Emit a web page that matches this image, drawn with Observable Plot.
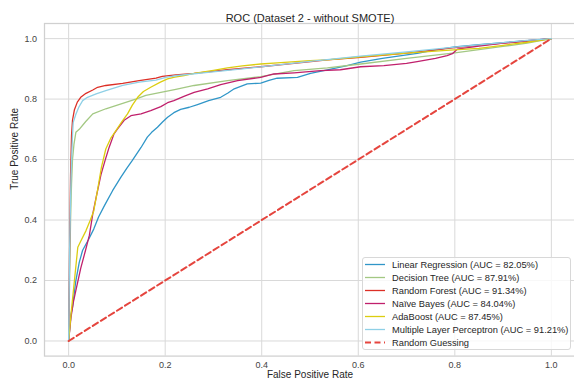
<!DOCTYPE html>
<html><head><meta charset="utf-8">
<script src="https://cdn.jsdelivr.net/npm/d3@7"></script>
<script src="https://cdn.jsdelivr.net/npm/@observablehq/plot@0.6"></script>
<style>
body{margin:0;background:#fff;}
#wrap{position:relative;width:574px;height:382px;font-family:"Liberation Sans",Arial,sans-serif;}
#legend{position:absolute;left:362px;top:257px;width:207px;height:91px;border:1px solid #d8d8d8;border-radius:3px;background:rgba(255,255,255,0.8);font-size:9.3px;color:#262626;}
.row{height:13px;display:flex;align-items:center;white-space:nowrap;}
.row svg{margin-left:2px;margin-right:7px;flex:none;}
</style></head>
<body><div id="wrap"></div>
<script>
const title = "ROC (Dataset 2 - without SMOTE)";
const xLabel = "False Positive Rate";
const yLabel = "True Positive Rate";
const ticks = [0, 0.2, 0.4, 0.6, 0.8, 1.0];

const models = ["Linear Regression", "Decision Tree", "Random Forest", "Naïve Bayes", "AdaBoost", "Multiple Layer Perceptron"];
const aucs = ["82.05%", "87.91%", "91.34%", "84.04%", "87.45%", "91.21%"];
const colors = ["#3096c8", "#a3c883", "#dc2f26", "#c0206c", "#dccd10", "#8fd0e6"];
const chanceLabel = "Random Guessing";
const chanceColor = "#e5453e";

const lrFpr = [0,0.005,0.008,0.015,0.022,0.029,0.041,0.052,0.062,0.075,0.091,0.108,0.12,0.132,0.15,0.163,0.172,0.184,0.195,0.205,0.218,0.232,0.25,0.267,0.29,0.315,0.33,0.343,0.37,0.398,0.415,0.432,0.474,0.501,0.536,0.577,0.605,0.65,0.722,0.76,0.8,0.85,0.894,0.95,1];
const lrTpr = [0,0.09,0.112,0.2,0.26,0.3,0.335,0.37,0.41,0.45,0.497,0.541,0.57,0.597,0.64,0.674,0.69,0.707,0.725,0.74,0.755,0.766,0.773,0.782,0.795,0.806,0.82,0.834,0.85,0.853,0.862,0.869,0.872,0.885,0.897,0.911,0.922,0.935,0.951,0.963,0.973,0.98,0.986,0.993,1];

const dtFpr = [0,0.002,0.004,0.006,0.008,0.011,0.015,0.022,0.035,0.05,0.077,0.112,0.139,0.16,0.191,0.222,0.26,0.329,0.398,0.467,0.536,0.605,0.7,0.8,0.9,0.95,1];
const dtTpr = [0,0.2,0.4,0.52,0.6,0.65,0.69,0.7,0.725,0.751,0.768,0.786,0.8,0.812,0.822,0.832,0.845,0.861,0.874,0.894,0.903,0.916,0.935,0.953,0.974,0.985,1];

const rfFpr = [0,0.002,0.004,0.006,0.008,0.012,0.018,0.025,0.036,0.05,0.06,0.077,0.112,0.146,0.181,0.194,0.222,0.26,0.329,0.398,0.467,0.536,0.605,0.7,0.8,0.9,0.95,1];
const rfTpr = [0,0.3,0.55,0.68,0.73,0.765,0.79,0.806,0.819,0.83,0.839,0.845,0.852,0.861,0.869,0.875,0.88,0.885,0.897,0.907,0.918,0.93,0.938,0.952,0.97,0.985,0.992,1];

const nbFpr = [0,0.005,0.01,0.015,0.025,0.035,0.043,0.05,0.057,0.067,0.076,0.084,0.094,0.101,0.115,0.129,0.15,0.17,0.191,0.205,0.218,0.24,0.26,0.288,0.315,0.35,0.398,0.425,0.467,0.522,0.563,0.605,0.653,0.7,0.722,0.76,0.784,0.795,0.805,0.85,0.9,0.95,1];
const nbTpr = [0,0.08,0.13,0.167,0.24,0.3,0.35,0.42,0.475,0.55,0.6,0.641,0.685,0.701,0.73,0.745,0.751,0.762,0.775,0.788,0.795,0.81,0.822,0.834,0.848,0.861,0.872,0.883,0.887,0.894,0.897,0.907,0.911,0.918,0.924,0.935,0.944,0.95,0.965,0.975,0.985,0.993,1];

const abFpr = [0,0.005,0.012,0.019,0.025,0.036,0.045,0.052,0.06,0.068,0.077,0.087,0.098,0.11,0.122,0.132,0.143,0.155,0.17,0.19,0.205,0.22,0.239,0.26,0.3,0.329,0.36,0.398,0.432,0.5,0.536,0.605,0.7,0.79,0.85,0.9,0.95,1];
const abTpr = [0,0.09,0.2,0.31,0.33,0.365,0.4,0.43,0.5,0.575,0.635,0.67,0.696,0.725,0.751,0.78,0.806,0.825,0.839,0.856,0.867,0.873,0.878,0.885,0.895,0.903,0.91,0.916,0.92,0.927,0.93,0.94,0.952,0.962,0.968,0.978,0.988,1];

const mlpFpr = [0,0.002,0.005,0.008,0.0095,0.015,0.021,0.029,0.039,0.057,0.077,0.112,0.146,0.181,0.201,0.225,0.294,0.36,0.43,0.5,0.605,0.7,0.8,0.9,0.95,1];
const mlpTpr = [0,0.3,0.55,0.68,0.723,0.75,0.773,0.795,0.806,0.817,0.828,0.845,0.856,0.863,0.872,0.878,0.889,0.9,0.912,0.925,0.942,0.956,0.972,0.987,0.994,1];

const chanceFpr = [0, 1];
const chanceTpr = [0, 1];

const fprs = [lrFpr, dtFpr, rfFpr, nbFpr, abFpr, mlpFpr];
const tprs = [lrTpr, dtTpr, rfTpr, nbTpr, abTpr, mlpTpr];
const rows = models.flatMap((m, i) => fprs[i].map((x, j) => ({model: m, fpr: x, tpr: tprs[i][j]})));
const chance = chanceFpr.map((x, j) => ({fpr: x, tpr: chanceTpr[j]}));
const fmt = d3.format(".1f");

const plot = Plot.plot({
  width: 574, height: 382,
  marginLeft: 44, marginRight: -1, marginTop: 23, marginBottom: 26.4,
  style: {fontFamily: "Liberation Sans, Arial, sans-serif", fontSize: "9px", color: "#262626", background: "#fff", overflow: "visible"},
  x: {domain: [-0.05, 1.05]},
  y: {domain: [-0.05, 1.05]},
  color: {domain: models, range: colors},
  marks: [
    Plot.gridX(ticks, {stroke: "#d9d9d9", strokeOpacity: 1, strokeWidth: 1}),
    Plot.gridY(ticks, {stroke: "#d9d9d9", strokeOpacity: 1, strokeWidth: 1}),
    Plot.frame({stroke: "#d0d0d0", strokeWidth: 1.25}),
    Plot.axisX(ticks, {tickSize: 0, tickPadding: 6, tickFormat: fmt, label: null, fill: "#444"}),
    Plot.axisY(ticks, {tickSize: 0, tickPadding: 7.5, tickFormat: fmt, label: null, fill: "#444"}),
    Plot.line(rows, {x: "fpr", y: "tpr", z: "model", stroke: "model", strokeWidth: 1.3}),
    Plot.line(chance, {x: "fpr", y: "tpr", stroke: chanceColor, strokeWidth: 2, strokeDasharray: "6,3.5"}),
    Plot.text([title], {frameAnchor: "top", dy: -9.5, fontSize: 11, fill: "#262626"}),
    Plot.text([xLabel], {frameAnchor: "bottom", dy: 22, fontSize: 10, fill: "#262626"}),
    Plot.text([yLabel], {frameAnchor: "left", dx: -30, rotate: -90, fontSize: 10, fill: "#262626"})
  ]
});
const wrap = document.getElementById("wrap");
wrap.appendChild(plot);

const legend = document.createElement("div");
legend.id = "legend";
const entries = models.map((m, i) => ({label: `${m} (AUC = ${aucs[i]})`, color: colors[i], dash: null, w: 1.3}))
  .concat([{label: chanceLabel, color: chanceColor, dash: "6,3.5", w: 2}]);
for (const e of entries) {
  const row = document.createElement("div");
  row.className = "row";
  const s = d3.create("svg").attr("width", 20).attr("height", 13);
  s.append("line").attr("x1", 0).attr("x2", 20).attr("y1", 6.5).attr("y2", 6.5)
    .attr("stroke", e.color).attr("stroke-width", e.w).attr("stroke-dasharray", e.dash);
  row.appendChild(s.node());
  const t = document.createElement("span");
  t.textContent = e.label;
  row.appendChild(t);
  legend.appendChild(row);
}
wrap.appendChild(legend);
</script></body></html>
